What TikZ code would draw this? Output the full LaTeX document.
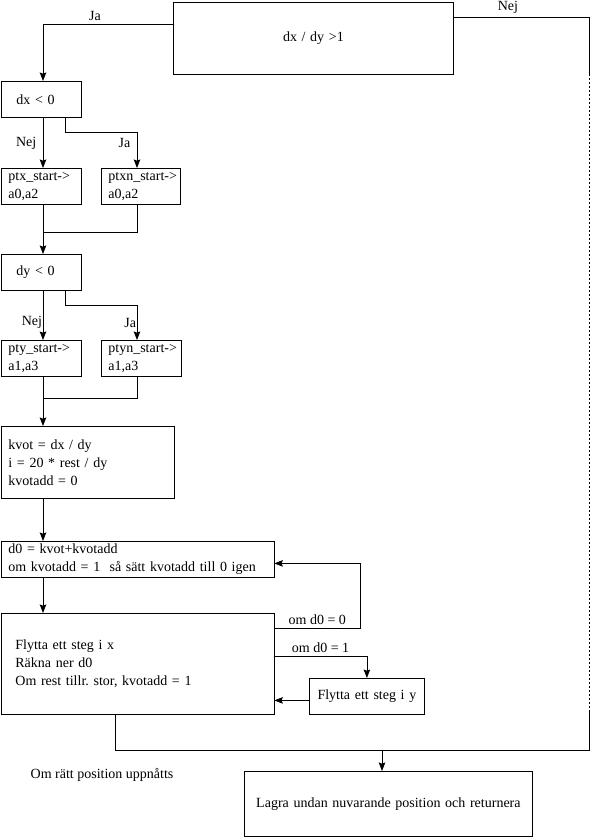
\documentclass[tikz,border=0pt]{standalone}
\usepackage{fontspec}
\setmainfont{Liberation Serif}
\usetikzlibrary{arrows.meta, calc}
\frenchspacing

\tikzset{
  box/.style={draw, anchor=north west, inner ysep=0pt, align=left,
    execute at begin node={\hyphenpenalty=10000\exhyphenpenalty=10000}},
  arr/.style={-{Stealth[length=8.5pt,width=6.5pt,inset=1.2pt]}},
  dots/.style={dash pattern=on 2pt off 2pt},
}

\begin{document}
\begin{tikzpicture}[x=1pt, y=-1pt, line width=0.8pt,
    font=\fontsize{14}{18}\selectfont]
  \useasboundingbox (0,0) rectangle (590,837);
  \coordinate (spine) at (43,0);
  \coordinate (fork) at (65,0);
  \coordinate (col2) at (137,0);
  \coordinate (hgt) at (589,74);
  \coordinate (lgt) at (589,712);
  \coordinate (mrg) at (382,750);

  \node[box, align=center, inner xsep=0pt, text width=280, minimum height=71.5]
    (cond) at (173,2.5) {dx / dy >1};
  \node[box, inner xsep=15.5, text width=49, minimum height=36]
    (dxneg) at (0.5,81) {dx < 0};
  \node[box, inner xsep=7.5, text width=65, minimum height=36]
    (ptx) at (0.5,168) {ptx\_start->\\a0,a2};
  \node[box, inner xsep=7, text width=65, minimum height=36]
    (ptxn) at (101,168) {ptxn\_start->\\a0,a2};
  \node[box, inner xsep=15.5, text width=49, minimum height=36]
    (dyneg) at (0.5,254) {dy < 0};
  \node[box, inner xsep=7.5, text width=65, minimum height=36]
    (pty) at (0.5,340) {pty\_start->\\a1,a3};
  \node[box, inner xsep=7, text width=66, minimum height=36]
    (ptyn) at (101,340) {ptyn\_start->\\a1,a3};
  \node[box, inner xsep=7.5, text width=158, minimum height=72]
    (kvot) at (0.5,426) {kvot = dx / dy\\i = 20 * rest / dy\\kvotadd = 0};
  \node[box, inner xsep=7.5, text width=258, minimum height=36]
    (dnoll) at (0.5,541) {d0 = kvot+kvotadd\\om kvotadd = 1\ \ så sätt kvotadd till 0 igen};
  \node[box, inner xsep=14.5, text width=244, minimum height=101]
    (stegx) at (0.5,613) {Flytta ett steg i x\\Räkna ner d0\\Om rest tillr. stor, kvotadd = 1};
  \node[box, align=center, inner xsep=0pt, text width=115, minimum height=36]
    (stegy) at (309,678) {Flytta ett steg i y};
  \node[box, align=center, inner xsep=0pt, text width=288, minimum height=65]
    (lagra) at (244,771) {Lagra undan nuvarande position och returnera};
  \node (note) at (102,775) {Om rätt position uppnåtts};

  \draw[arr] ([yshift=-21.5pt]cond.north west)
    -| node[above, pos=0.3] {Ja} (dxneg.north -| spine);
  \draw ([yshift=-14.5pt]cond.north east)
    -| node[above, pos=0.2] {Nej} (hgt);
  \draw[dots] (hgt) -- (lgt);
  \draw ([xshift=-22pt]stegx.south) |- (lgt |- mrg) -- (lgt);
  \draw[arr] (mrg) -- (lagra.north -| mrg);

  \draw[arr] (dxneg.south -| spine)
    -- node[left=3pt] {Nej} (ptx.north -| spine);
  \draw[arr] (dxneg.south -| fork) -- ++(0,15)
    -| node[left=3pt, pos=0.65] {Ja} (ptxn.north -| col2);
  \draw (ptxn.south -| col2) |- ([yshift=-28pt]ptx.south -| spine);
  \draw[arr] (ptx.south -| spine) -- (dyneg.north -| spine);

  \draw[arr] (dyneg.south -| spine)
    -- node[left, inner xsep=0.5pt, pos=0.65] {Nej} (pty.north -| spine);
  \draw[arr] (dyneg.south -| fork) -- ++(0,15)
    -| node[left, inner xsep=0.5pt, pos=0.745] {Ja} (ptyn.north -| col2);
  \draw (ptyn.south -| col2) |- ([yshift=-22pt]pty.south -| spine);
  \draw[arr] (pty.south -| spine) -- (kvot.north -| spine);

  \draw[arr] (kvot.south -| spine) -- (dnoll.north -| spine);
  \draw[arr] (dnoll.south -| spine) -- (stegx.north -| spine);
  \draw[arr] ([yshift=-15pt]stegx.north east)
    -- node[above] {om d0 = 0} ++(86,0) |- ([yshift=-4pt]dnoll.east);
  \draw[arr] ([yshift=-43pt]stegx.north east)
    -| node[above, pos=0.25] {om d0 = 1} (stegy.north);
  \draw[arr] ([yshift=-4pt]stegy.west) -- ([yshift=-4pt]stegy.west -| stegx.east);
\end{tikzpicture}
\end{document}
